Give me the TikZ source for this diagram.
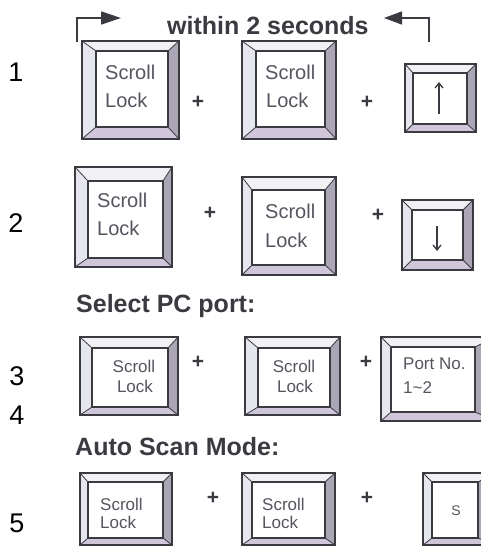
\documentclass[tikz,border=0pt]{standalone}
\usepackage{fontspec}
\setmainfont{Liberation Sans}
\usetikzlibrary{arrows.meta}
\definecolor{inkc}{HTML}{3A3A40}
\definecolor{keytxt}{HTML}{55555F}
\definecolor{topb}{HTML}{F1F1F3}
\definecolor{leftb}{HTML}{E6E6EE}
\definecolor{rightb}{HTML}{ABA6B6}
\definecolor{botb}{HTML}{CFC6DA}
\tikzset{
  keyline/.style={draw=inkc,line width=1.4pt},
  keyinner/.style={draw=inkc,line width=1.1pt,fill=white},
  keydiag/.style={draw=inkc,line width=0.8pt},
  heading/.style={anchor=base west,inner sep=0pt,text=inkc,font=\bfseries\fontsize{25}{30}\selectfont},
  numlab/.style={inner sep=0pt,font=\fontsize{27}{32}\selectfont},
  plus/.style={inner sep=0pt,text=inkc,font=\bfseries\fontsize{21}{24}\selectfont},
  ktxtL/.style={anchor=base west,inner sep=0pt,text=keytxt,font=\fontsize{20}{24}\selectfont},
  ktxtS/.style={anchor=base,inner sep=0pt,text=keytxt,font=\fontsize{17}{20}\selectfont},
  ktxtSL/.style={anchor=base west,inner sep=0pt,text=keytxt,font=\fontsize{17}{20}\selectfont},
  brk/.style={draw=inkc,line width=1.5pt},
  keyarrow/.style={draw=inkc,line width=1.3pt,-{Straight Barb[length=5pt,width=8pt]}}
}
% outer x1 y1 x2 y2, inner x1 y1 x2 y2
\newcommand{\kbkey}[8]{%
  \fill[topb] (#1,#2) -- (#3,#2) -- (#7,#6) -- (#5,#6) -- cycle;
  \fill[leftb] (#1,#2) -- (#5,#6) -- (#5,#8) -- (#1,#4) -- cycle;
  \fill[rightb] (#3,#2) -- (#3,#4) -- (#7,#8) -- (#7,#6) -- cycle;
  \fill[botb] (#1,#4) -- (#3,#4) -- (#7,#8) -- (#5,#8) -- cycle;
  \draw[keyline] (#1,#2) rectangle (#3,#4);
  \draw[keyinner] (#5,#6) rectangle (#7,#8);
  \draw[keydiag] (#1,#2) -- (#5,#6) (#3,#2) -- (#7,#6) (#1,#4) -- (#5,#8) (#3,#4) -- (#7,#8);
}
\begin{document}
\begin{tikzpicture}[x=1pt,y=-1pt]
\clip (0,0) rectangle (481,548);
\fill[white] (0,0) rectangle (481,548);

% top bracket
\coordinate (bl0) at (77,42);
\coordinate (bl1) at (77,18);
\coordinate (bl2) at (121,18);
\coordinate (br0) at (429,42);
\coordinate (br1) at (429,18);
\coordinate (br2) at (384,18);
\draw[brk,-{Triangle[length=20pt,width=13pt]}] (bl0) -- (bl1) -- (bl2);
\draw[brk,-{Triangle[length=18pt,width=13pt]}] (br0) -- (br1) -- (br2);
\node[heading] (within) at (167,35) {within 2 seconds};

% numbers
\node[numlab] (n1) at (16,72) {1};
\node[numlab] (n2) at (16,223) {2};
\node[numlab] (n3) at (17,376) {3};
\node[numlab] (n4) at (17,415) {4};
\node[numlab] (n5) at (17,523) {5};

% row 1
\kbkey{82}{41}{179}{139}{96}{51}{168}{127}
\node[ktxtL] (r1a1) at (105,80) {Scroll};
\node[ktxtL] (r1a2) at (105,108) {Lock};
\node[plus] (r1p1) at (198,102) {+};
\kbkey{242}{41}{336}{139}{256}{51}{325}{127}
\node[ktxtL] (r1b1) at (265,80) {Scroll};
\node[ktxtL] (r1b2) at (266,108) {Lock};
\node[plus] (r1p2) at (367,102) {+};
\kbkey{405}{64}{476}{132}{413}{73}{467}{124}
\coordinate (up0) at (439,114);
\coordinate (up1) at (439,82);
\draw[keyarrow] (up0) -- (up1);

% row 2
\kbkey{75}{167}{172}{267}{88}{181}{163}{258}
\node[ktxtL] (r2a1) at (97,207) {Scroll};
\node[ktxtL] (r2a2) at (97,235) {Lock};
\node[plus] (r2p1) at (210,213) {+};
\kbkey{242}{177}{336}{275}{252}{190}{325}{265}
\node[ktxtL] (r2b1) at (265,218) {Scroll};
\node[ktxtL] (r2b2) at (265,247) {Lock};
\node[plus] (r2p2) at (378,215) {+};
\kbkey{402}{200}{473}{270}{412}{210}{463}{260}
\coordinate (dn0) at (437,226);
\coordinate (dn1) at (437,251);
\draw[keyarrow] (dn0) -- (dn1);

% row 3
\node[heading] (selpc) at (76,312) {Select PC port:};
\kbkey{80}{337}{178}{415}{92}{348}{168}{407}
\node[ktxtS] (r3a1) at (134,372) {Scroll};
\node[ktxtS] (r3a2) at (135,392) {Lock};
\node[plus] (r3p1) at (198,362) {+};
\kbkey{245}{337}{340}{415}{258}{348}{330}{407}
\node[ktxtS] (r3b1) at (294,372) {Scroll};
\node[ktxtS] (r3b2) at (295,392) {Lock};
\node[plus] (r3p2) at (366,362) {+};
\kbkey{381}{337}{495}{421}{391}{347}{475}{412}
\node[ktxtSL] (r3c1) at (403,369) {Port No.};
\node[ktxtSL] (r3c2) at (403,393) {1\char"007E 2};

% row 4
\node[heading] (auto) at (75,455) {Auto Scan Mode:};
\kbkey{80}{473}{172}{545}{88}{482}{163}{538}
\node[ktxtSL] (r4a1) at (100,510) {Scroll};
\node[ktxtSL] (r4a2) at (100,528) {Lock};
\node[plus] (r4p1) at (213,498) {+};
\kbkey{242}{473}{335}{545}{252}{482}{325}{538}
\node[ktxtSL] (r4b1) at (262,510) {Scroll};
\node[ktxtSL] (r4b2) at (262,528) {Lock};
\node[plus] (r4p2) at (367,498) {+};
\kbkey{423}{473}{495}{545}{432}{482}{478}{538}
\node[ktxtS,font=\fontsize{14}{16}\selectfont] (r4c) at (456,515) {S};
\end{tikzpicture}
\end{document}
